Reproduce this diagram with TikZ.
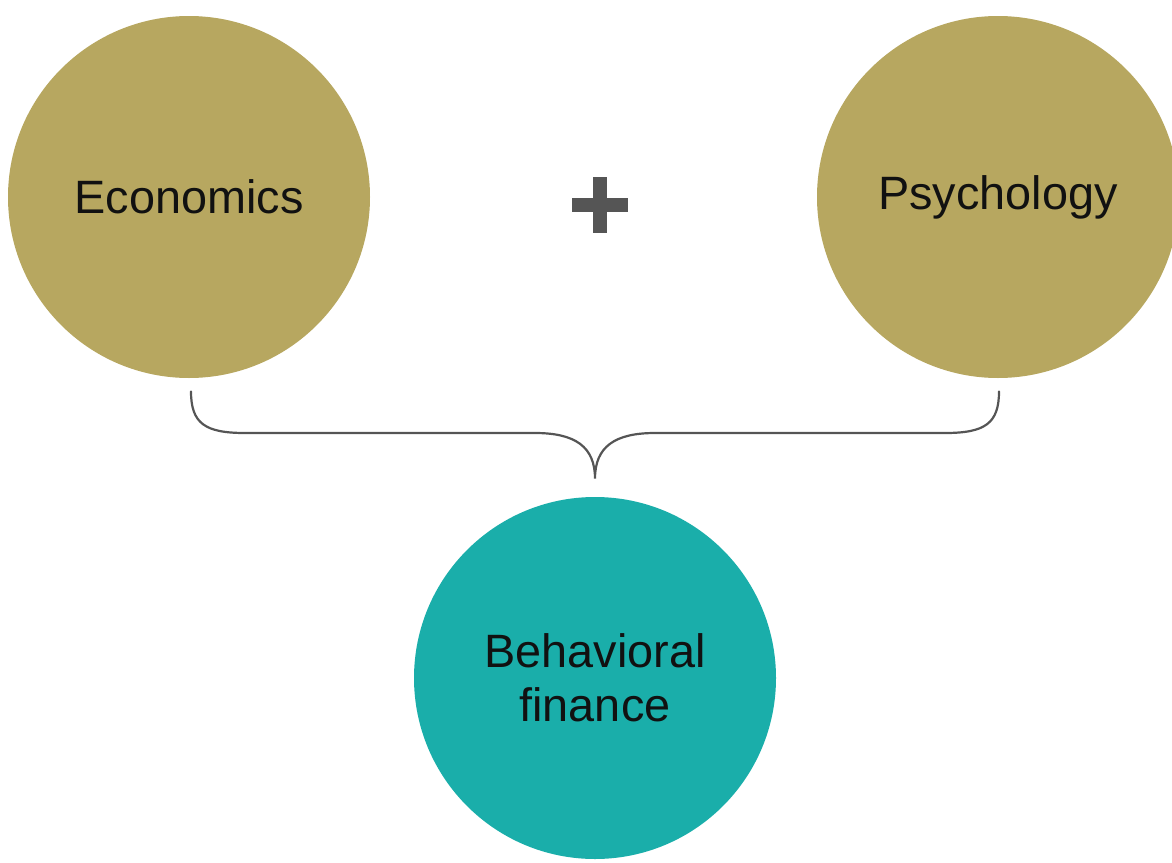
\documentclass[tikz,border=0pt]{standalone}
\usepackage{fontspec}
\setmainfont{Liberation Sans}
\definecolor{goldc}{RGB}{183,167,96}
\definecolor{tealc}{RGB}{26,174,170}
\definecolor{grayc}{RGB}{85,85,85}
\definecolor{textc}{RGB}{17,17,17}
\begin{document}
\begin{tikzpicture}[x=0.5pt,y=-0.5pt,
  bubble/.style={circle,minimum size=181pt,inner sep=0pt,align=center,
    text=textc,font=\fontsize{23.4pt}{27pt}\selectfont},
  goldbubble/.style={bubble,fill=goldc},
  tealbubble/.style={bubble,fill=tealc},
  bracestyle/.style={draw=grayc,line width=1.1pt,line cap=round},
  plusstyle/.style={fill=grayc}]
\useasboundingbox (0,0) rectangle (1172,862);
\clip (0,0) rectangle (1172,862);
\node[goldbubble] (eco) at (189,197) {Economics};
\node[goldbubble] (psy) at (998,197) {Psychology};
\node[tealbubble] (bf) at (595,678) {Behavioral\\finance};
\node[inner sep=0pt,minimum size=28pt] (plus) at (600,205) {};
\fill[plusstyle] ([xshift=-3.5pt]plus.north) rectangle ([xshift=3.5pt]plus.south);
\fill[plusstyle] ([yshift=3.5pt]plus.west) rectangle ([yshift=-3.5pt]plus.east);
\coordinate (bl) at ([xshift=1pt,yshift=-6.5pt]eco.south);
\coordinate (br) at ([xshift=0.5pt,yshift=-6.5pt]psy.south);
\coordinate (tip) at ([yshift=9pt]bf.north);
\draw[bracestyle] (bl) .. controls +(0,32) and +(-40,0) .. (245,433)
  -- (535,433) .. controls +(40,0) and +(0,-32) .. (tip)
  .. controls +(0,-32) and +(-40,0) .. (655,433)
  -- (945,433) .. controls +(40,0) and +(0,32) .. (br);
\end{tikzpicture}
\end{document}
